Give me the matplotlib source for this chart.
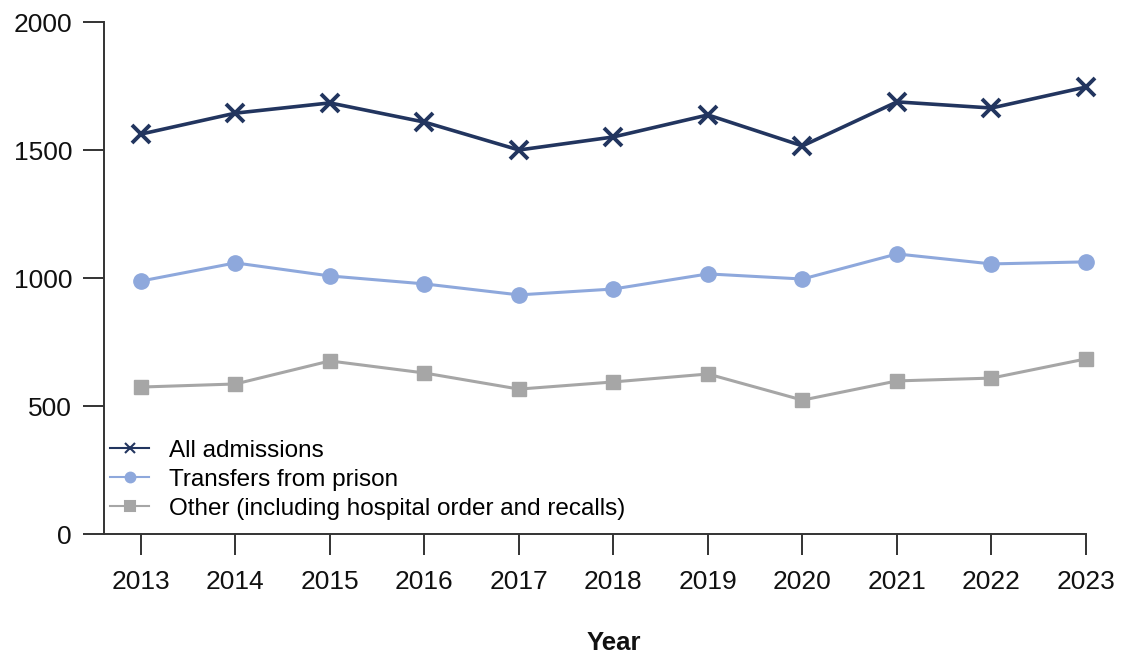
import matplotlib
matplotlib.use("Agg")
import matplotlib.pyplot as plt

years = [2013, 2014, 2015, 2016, 2017, 2018, 2019, 2020, 2021, 2022, 2023]
all_admissions = [1562, 1644, 1684, 1609, 1500, 1551, 1637, 1516, 1688, 1664, 1746]
transfers = [988, 1059, 1008, 977, 934, 957, 1016, 996, 1094, 1055, 1063]
other = [574, 586, 676, 629, 566, 594, 625, 523, 598, 609, 684]
labels = ["All admissions", "Transfers from prison",
          "Other (including hospital order and recalls)"]
yticks = [0, 500, 1000, 1500, 2000]

plt.rcParams['font.family'] = ['Liberation Sans', 'DejaVu Sans']

fig = plt.figure(figsize=(11.21, 6.57), dpi=100)
ax = fig.add_axes([104/1121, (657-534)/657, (1086-104)/1121, (534-22)/657])

c_all = '#22355f'
c_tr = '#8ea8dc'
c_ot = '#a6a6a6'

ax.plot(years, all_admissions, color=c_all, lw=2.6, marker='x', ms=13, mew=2.8,
        label=labels[0], clip_on=False)
ax.plot(years, transfers, color=c_tr, lw=2.2, marker='o', ms=11,
        label=labels[1], clip_on=False)
ax.plot(years, other, color=c_ot, lw=2.2, marker='s', ms=10.5,
        label=labels[2], clip_on=False)

ax.set_xlim(2012.61, 2023)
ax.set_ylim(0, 2000)
ax.set_xticks(years)
ax.set_xticklabels([str(y) for y in years])
ax.set_yticks(yticks)
ax.set_yticklabels([str(v) for v in yticks])

for s in ['top', 'right']:
    ax.spines[s].set_visible(False)
for s in ['left', 'bottom']:
    ax.spines[s].set_color('#333333')
    ax.spines[s].set_linewidth(1.4)

ax.tick_params(axis='both', which='major', length=15, width=1.4, color='#333333',
               labelsize=19, labelcolor='#111111')
ax.tick_params(axis='x', pad=11)
ax.tick_params(axis='y', pad=8)

ax.set_xlabel('Year', fontsize=18.5, fontweight='bold', color='#111111',
              va='center')
ax.xaxis.set_label_coords((614-104)/(1086-104), -(643-534)/(534-22))

leg = ax.legend(loc='lower left', bbox_to_anchor=(-0.011, -0.005), frameon=False,
                fontsize=17.5, handlelength=1.6, handletextpad=0.8,
                labelspacing=0.28, borderaxespad=0.3)
for h in leg.legend_handles:
    h.set_markersize(7)
    h.set_linewidth(1.5)
    h.set_markeredgewidth(1.5)

fig.savefig('out.png', dpi=100)
